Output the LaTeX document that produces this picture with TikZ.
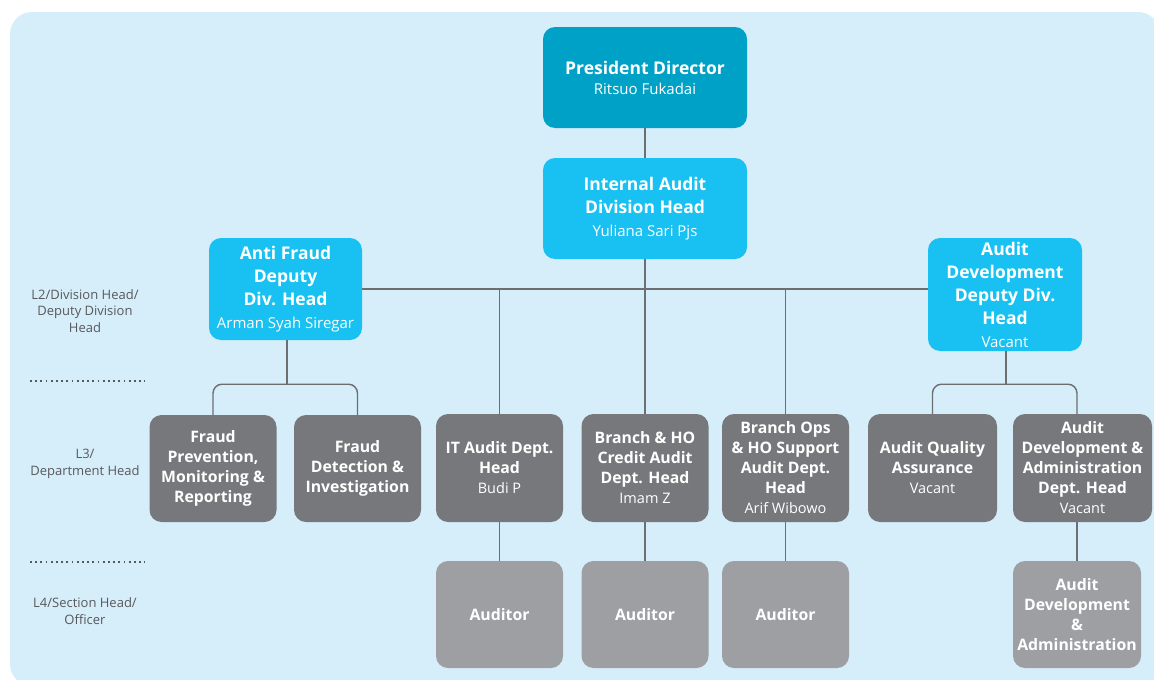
\documentclass[tikz,border=0pt]{standalone}
\usepackage{fontspec}
\setmainfont{Open Sans}
\definecolor{bgblue}{HTML}{D6EDFA}
\definecolor{pdblue}{HTML}{00A1C7}
\definecolor{divblue}{HTML}{18C1F1}
\definecolor{deptgray}{HTML}{77787B}
\definecolor{secgray}{HTML}{9E9FA3}
\definecolor{linegray}{HTML}{6D6E71}
\definecolor{lvltext}{HTML}{58595B}
\newcommand\bigttl{\fontsize{17.5}{23}\selectfont\bfseries}
\newcommand\bigname{\fontsize{15}{23}\selectfont\mdseries}
\newcommand\smttl{\fontsize{15.8}{20}\selectfont\bfseries}
\newcommand\smname{\fontsize{14.5}{20}\selectfont\mdseries}
\begin{document}
\begin{tikzpicture}[x=1pt,y=-1pt,
  box/.style={rounded corners=12pt, align=center, text=white, inner sep=2pt, anchor=center},
  bigbox/.style={box, font=\fontsize{17.5}{23}\selectfont},
  topbox/.style={bigbox, fill=pdblue, minimum width=204pt, minimum height=101pt},
  divbox/.style={bigbox, fill=divblue},
  deptbox/.style={box, font=\fontsize{15.8}{20}\selectfont, fill=deptgray, minimum width=127pt, minimum height=108pt},
  secbox/.style={box, font=\fontsize{15.8}{20}\selectfont, fill=secgray, minimum width=127pt, minimum height=107pt},
  conn/.style={draw=linegray, line width=1.4pt},
  lvl/.style={align=center, text=lvltext, font=\fontsize{13}{16.5}\selectfont},
  lvlsep/.style={draw=lvltext, line width=1.7pt, dash pattern=on 1.7pt off 3.5pt}
]
\useasboundingbox (0,0) rectangle (1154,680);
\fill[bgblue, rounded corners=22pt] (10,12) rectangle (1160,686);

% level labels and separators
\node[lvl] (lvltwo) at (85,311) {L2/Division Head/\\Deputy Division\\Head};
\node[lvl] (lvlthree) at (85,464) {L3/\\Department Head};
\node[lvl] (lvlfour) at (85,611) {L4/Section Head/\\Officer};
\draw[lvlsep] (30,381) -- (145,381);
\draw[lvlsep] (30,562) -- (145,562);

% top levels
\node[topbox, font=\fontsize{17.5}{20}\selectfont] (pd) at (645,77.5) {{\bigttl President Director}\\{\bigname Ritsuo Fukadai}};
\node[topbox, fill=divblue] (ia) at (645,208.5) {{\bigttl Internal Audit}\\{\bigttl Division Head}\\{\bigname Yuliana Sari Pjs}};
\node[divbox, minimum width=153pt, minimum height=102pt] (af) at (285.5,289)
  {{\bigttl Anti Fraud}\\{\bigttl Deputy}\\{\bigttl Div. Head}\\{\bigname Arman Syah Siregar}};
\node[divbox, minimum width=154pt, minimum height=113pt] (ad) at (1005,294.5)
  {{\bigttl Audit}\\{\bigttl Development}\\{\bigttl Deputy Div.}\\{\bigttl Head}\\{\bigname Vacant}};

% department heads
\node[deptbox, minimum height=107pt] (fp) at (213,468.5) {{\smttl Fraud}\\{\smttl Prevention,}\\{\smttl Monitoring \&}\\{\smttl Reporting}};
\node[deptbox, minimum height=107pt] (fd) at (357.5,468.5) {{\smttl Fraud}\\{\smttl Detection \&}\\{\smttl Investigation}};
\node[deptbox] (it) at (499.5,468) {{\smttl IT Audit Dept.}\\{\smttl Head}\\{\smname Budi P}};
\node[deptbox] (bc) at (645,468) {{\smttl Branch \& HO}\\{\smttl Credit Audit}\\{\smttl Dept. Head}\\{\smname Imam Z}};
\node[deptbox] (bo) at (785.5,468) {{\smttl Branch Ops}\\{\smttl \& HO Support}\\{\smttl Audit Dept.}\\{\smttl Head}\\{\smname Arif Wibowo}};
\node[deptbox, minimum width=129pt] (aq) at (932.5,468) {{\smttl Audit Quality}\\{\smttl Assurance}\\{\smname Vacant}};
\node[deptbox, minimum width=139pt] (ada) at (1082.5,468) {{\smttl Audit}\\{\smttl Development \&}\\{\smttl Administration}\\{\smttl Dept. Head}\\{\smname Vacant}};

% section heads / officers
\node[secbox] (aud1) at (499.5,614.5) {\smttl Auditor};
\node[secbox] (aud2) at (645,614.5) {\smttl Auditor};
\node[secbox] (aud3) at (785.5,614.5) {\smttl Auditor};
\node[secbox, minimum width=128pt] (adsec) at (1077,614.5) {{\smttl Audit}\\{\smttl Development}\\{\smttl \&}\\{\smttl Administration}};

% reporting lines
\draw[conn] (pd) -- (ia);
\coordinate (bus) at (ia.south |- af.east);
\draw[conn] (ia.south) -- (bus);
\draw[conn] (af.east) -- (af.east -| ad.west);
\draw[conn] (it.north |- bus) -- (it.north);
\draw[conn] (bc.north |- bus) -- (bc.north);
\draw[conn] (bo.north |- bus) -- (bo.north);

\path (af.south) ++(1.5,44) coordinate (afj);
\draw[conn] (afj |- af.south) -- (afj);
\draw[conn, rounded corners=9pt] (fp.north) |- (afj) -| (fd.north);

\path (ad.south) ++(1,33) coordinate (adj);
\draw[conn] (adj |- ad.south) -- (adj);
\draw[conn, rounded corners=9pt] (aq.north) |- (adj) -| (ada.north -| adsec.north);

\draw[conn] (it.south) -- (aud1.north);
\draw[conn] (bc.south) -- (aud2.north);
\draw[conn] (bo.south) -- (aud3.north);
\draw[conn] (adsec.north |- ada.south) -- (adsec.north);
\end{tikzpicture}
\end{document}
